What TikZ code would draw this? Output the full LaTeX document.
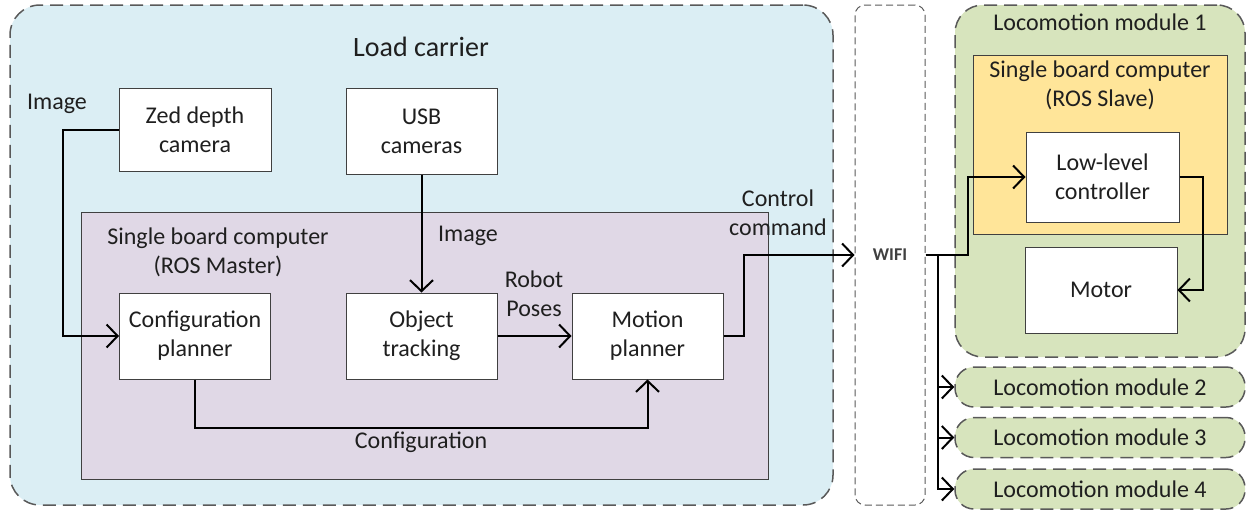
\documentclass[tikz,border=0pt]{standalone}
\usepackage{fontspec}
\setmainfont{Carlito}
\usetikzlibrary{arrows.meta,calc}
\definecolor{carrierfill}{RGB}{219,238,244}
\definecolor{masterfill}{RGB}{224,216,230}
\definecolor{modulefill}{RGB}{215,228,189}
\definecolor{slavefill}{RGB}{255,229,153}
\definecolor{edgegray}{RGB}{64,64,64}
\definecolor{dashgray}{RGB}{89,89,89}
\tikzset{
  txt/.style={font=\fontsize{24}{29}\selectfont, align=center, text=black!88},
  box/.style={txt, draw=edgegray, line width=1pt, fill=white, inner sep=0pt},
  group/.style={draw=edgegray, line width=1pt, inner sep=0pt},
  dashgroup/.style={draw=dashgray, line width=1.5pt, dash pattern=on 13pt off 7pt, inner sep=0pt},
  arr/.style={line width=2pt, -{Straight Barb[length=11pt,width=23pt,line width=2pt]}},
}
\begin{document}
\begin{tikzpicture}[x=1pt,y=-1pt]
\useasboundingbox (0,0) rectangle (1247,512);

% load carrier and its on-board computer
\node[dashgroup, fill=carrierfill, rounded corners=30pt, minimum width=823pt, minimum height=500pt] (carrier) at (421.5,255) {};
\node[txt, font=\fontsize{28}{33}\selectfont] (carriertitle) at (421,47) {Load carrier};
\node[group, fill=masterfill, minimum width=687pt, minimum height=267pt] (master) at (424.5,345.5) {};
\node[txt] (mastertitle) at (218,252) {Single board computer\\(ROS Master)};

\node[box, minimum width=152pt, minimum height=83pt] (zed) at (195,129.5) {Zed depth\\camera};
\node[box, minimum width=151pt, minimum height=86pt] (usb) at (421.5,131) {USB\\cameras};
\node[box, minimum width=151pt, minimum height=86pt] (cfg) at (195,336) {Configuration\\planner};
\node[box, minimum width=151pt, minimum height=86pt] (obj) at (421.5,336) {Object\\tracking};
\node[box, minimum width=151pt, minimum height=86pt] (mot) at (647.5,336) {Motion\\planner};

% wireless link
\node[draw=dashgray, line width=1pt, dash pattern=on 7pt off 4pt, rounded corners=10pt,
      minimum width=70pt, minimum height=500pt, inner sep=0pt,
      font=\fontsize{18}{20}\selectfont\bfseries, text=black!75] (wifi) at (890,255) {WIFI};

% locomotion modules
\node[dashgroup, fill=modulefill, rounded corners=28pt, minimum width=290pt, minimum height=352pt] (lm1) at (1100,181) {};
\node[txt] (lm1title) at (1100,22) {Locomotion module 1};
\node[group, fill=slavefill, minimum width=254pt, minimum height=179pt] (slave) at (1100,144.5) {};
\node[txt] (slavetitle) at (1100,85.5) {Single board computer\\(ROS Slave)};
\node[box, minimum width=153pt, minimum height=90pt] (llc) at (1102.5,177) {Low-level\\controller};
\node[box, minimum width=152pt, minimum height=86pt] (motor) at (1101,290) {Motor};

\node[dashgroup, txt, fill=modulefill, rounded corners=19pt, minimum width=290pt, minimum height=40pt] (lm2) at (1100,387) {Locomotion module 2};
\node[dashgroup, txt, fill=modulefill, rounded corners=19pt, minimum width=290pt, minimum height=40pt] (lm3) at (1100,437.5) {Locomotion module 3};
\node[dashgroup, txt, fill=modulefill, rounded corners=19pt, minimum width=290pt, minimum height=40pt] (lm4) at (1100,489) {Locomotion module 4};

% connector labels
\node[txt] (lblimg1) at (57,104) {Image};
\node[txt] (lblimg2) at (468,236) {Image};
\node[txt] (lblposes) at (534,293.5) {Robot\\Poses};
\node[txt] (lblcmd) at (778,212.5) {Control\\command};
\node[txt] (lblcfg) at (421,442) {Configuration};

% data flow
\draw[arr] (zed.west) -- ++(-56,0) |- (cfg.west);
\draw[arr] (usb.south) -- (obj.north);
\draw[arr] (obj.east) -- (mot.west);
\draw[arr] (cfg.south) -- ++(0,48) -| (mot.south);
\draw[arr] (mot.east) -- ++(20,0) |- (wifi.west);
\draw[arr] (wifi.east) -- ++(42,0) |- (llc.west);
\coordinate (split) at ($(wifi.east)+(12,0)$);
\draw[line width=2pt] (wifi.east) -- (split);
\draw[arr] (split) |- (lm2.west);
\draw[arr] (split) |- (lm3.west);
\draw[arr] (split) |- (lm4.west);
\draw[arr] (llc.east) -- ++(23,0) |- (motor.east);
\end{tikzpicture}
\end{document}
